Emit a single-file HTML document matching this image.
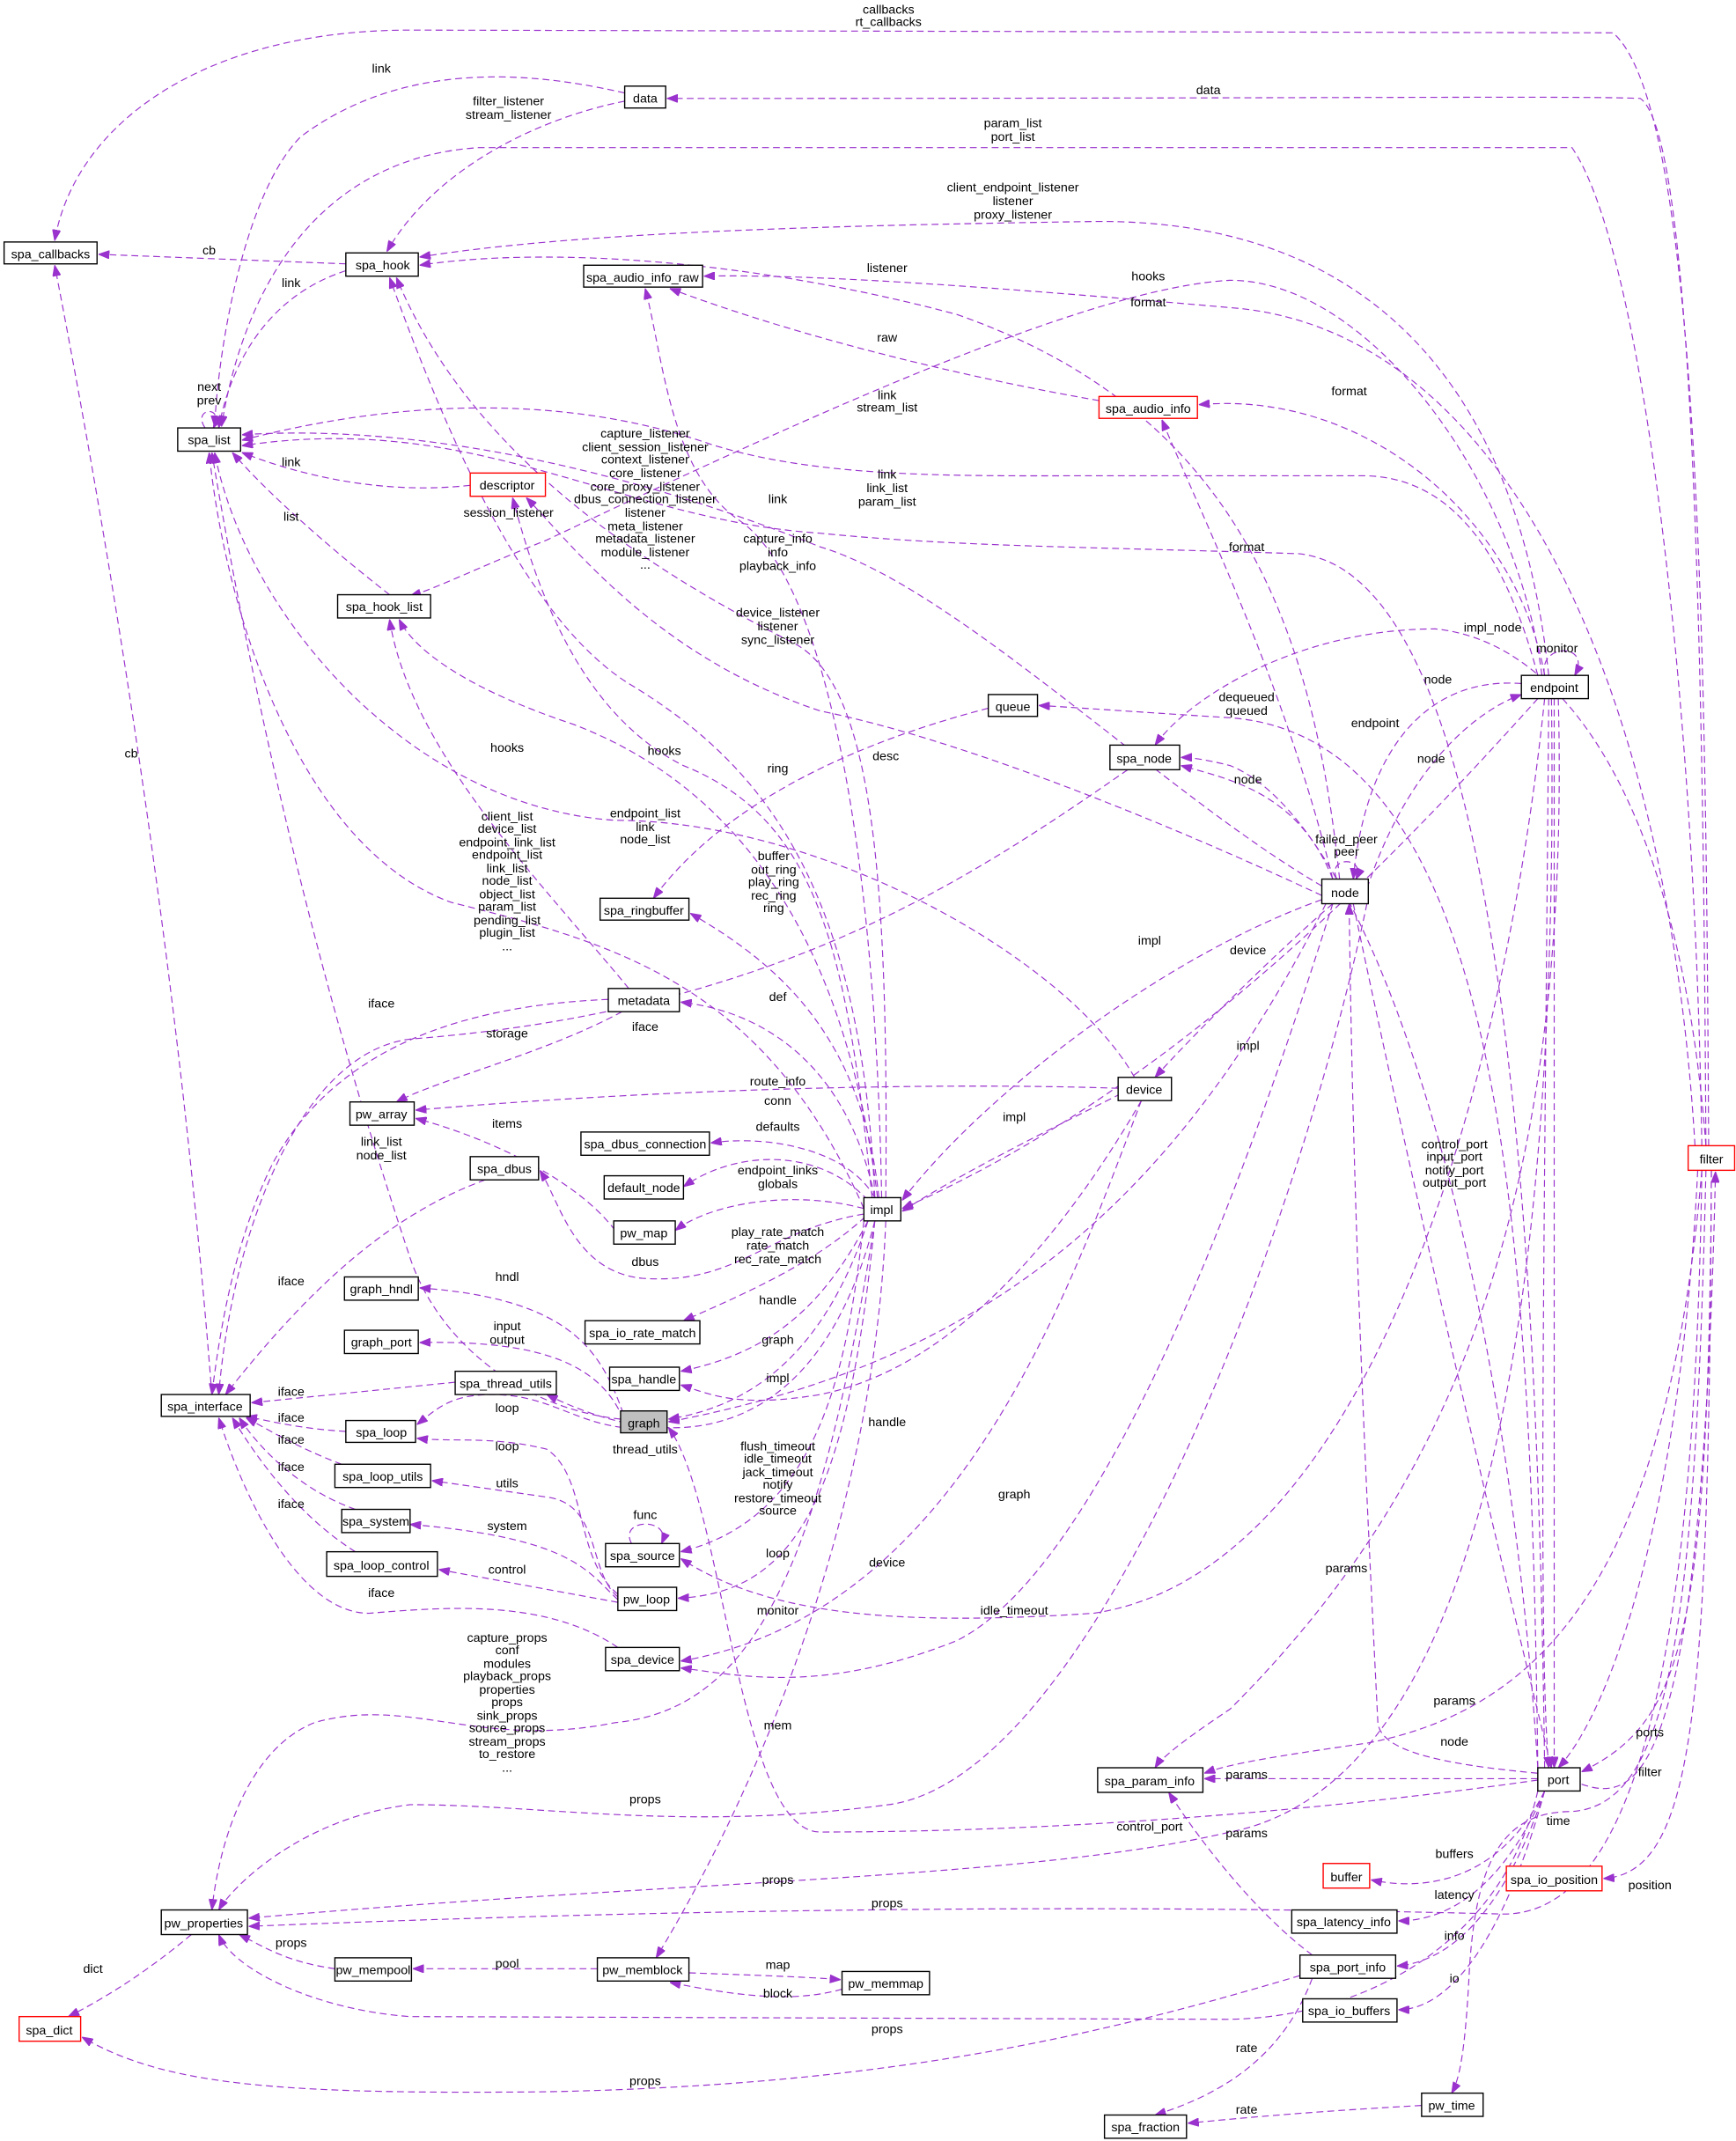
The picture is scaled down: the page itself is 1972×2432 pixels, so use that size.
<!DOCTYPE html>
<html><head><meta charset="utf-8"><style>
html,body{margin:0;padding:0;background:#fff;}
svg{display:block;}
text{font-family:"Liberation Sans",Arial,sans-serif;font-size:9.2px;fill:#000;}
.l{text-anchor:middle;}
.e{fill:none;stroke:#9a32cd;stroke-width:0.75;stroke-dasharray:5,3;}
.n{fill:#fff;stroke:#000;stroke-width:0.9;}
.r{fill:#fff;stroke:#f00;stroke-width:0.9;}
.g{fill:#bfbfbf;stroke:#000;stroke-width:0.9;}
</style></head><body>
<svg width="1972" height="2432" viewBox="0 0 1270 1566" preserveAspectRatio="none" xmlns="http://www.w3.org/2000/svg">
<defs><marker id="a" viewBox="0 0 10 10" refX="10" refY="5" markerWidth="8" markerHeight="6" markerUnits="userSpaceOnUse" orient="auto" preserveAspectRatio="none"><path d="M0,0L10,5L0,10z" fill="#9a32cd" stroke="#9a32cd"/></marker></defs>
<g marker-end="url(#a)">
<path class="e" d="M1250,838 C1248,500 1245,80 1180,24 L300,22 C150,22 55,90 40,176"/>
<path class="e" d="M1248,838 C1246,500 1240,100 1200,72 C1150,70 1000,72 488,72"/>
<path class="e" d="M457,68 C400,55 300,40 220,100 C180,140 160,250 157,312"/>
<path class="e" d="M457,74 C400,85 320,120 283,184"/>
<path class="e" d="M1245,838 C1240,500 1200,180 1150,108 L350,108 C240,115 180,200 162,312"/>
<path class="e" d="M1133,494 C1110,280 1000,160 800,162 C600,165 420,170 307,188"/>
<path class="e" d="M980,643 C960,450 900,300 700,230 C550,190 400,180 307,194"/>
<path class="e" d="M1240,838 C1220,500 1100,240 900,225 C750,212 600,200 515,202"/>
<path class="e" d="M804,293 C700,275 580,245 490,211"/>
<path class="e" d="M1128,494 C1110,350 1000,205 900,205 C800,210 600,300 400,395 C350,415 320,430 300,436"/>
<path class="e" d="M1130,494 C1110,380 1000,285 877,296"/>
<path class="e" d="M975,643 C940,500 880,380 850,307"/>
<path class="e" d="M1125,494 C1100,400 1060,350 1000,348 L800,348 C700,348 600,350 520,325 C420,290 300,290 177,322"/>
<path class="e" d="M1130,1293 C1125,900 1100,420 950,405 C800,400 700,400 600,390 C450,380 350,300 177,326"/>
<path class="e" d="M344,355 C280,362 220,348 177,331"/>
<path class="e" d="M253,193 L72,186"/>
<path class="e" d="M253,198 C200,215 170,260 160,313"/>
<path class="e" d="M150,313 C140,298 165,296 156,313"/>
<path class="e" d="M285,435 C240,400 195,360 170,331"/>
<path class="e" d="M638,876 C620,700 600,600 500,560 C420,520 390,420 375,364"/>
<path class="e" d="M640,876 C630,650 560,560 460,500 C380,450 320,300 285,203"/>
<path class="e" d="M632,884 C560,720 450,690 330,660 C220,620 165,450 153,331"/>
<path class="e" d="M645,876 C640,600 600,420 540,380 C490,345 485,260 472,211"/>
<path class="e" d="M648,876 C650,650 640,500 580,470 C420,390 330,300 290,203"/>
<path class="e" d="M967,648 C850,580 700,430 600,400 C450,340 300,310 177,318"/>
<path class="e" d="M830,788 C780,700 600,600 450,600 C300,590 180,450 157,331"/>
<path class="e" d="M642,876 C620,700 550,580 420,530 C330,500 300,470 292,453"/>
<path class="e" d="M460,723 C400,650 300,550 285,453"/>
<path class="e" d="M723,518 C600,550 520,600 478,657"/>
<path class="e" d="M643,876 C630,750 560,700 505,668"/>
<path class="e" d="M967,655 C850,600 700,540 600,520 C480,480 420,400 385,364"/>
<path class="e" d="M1125,1293 C1120,900 1100,540 900,525 C820,520 780,517 760,516"/>
<path class="e" d="M1248,838 C1230,600 1150,470 1050,460 C950,460 870,510 845,545"/>
<path class="e" d="M1113,500 C1050,495 1000,540 990,643"/>
<path class="e" d="M1130,494 C1125,470 1165,470 1152,494"/>
<path class="e" d="M1000,650 C1030,560 1080,520 1113,508"/>
<path class="e" d="M1125,1293 C1100,900 1000,600 900,560 C880,555 870,554 864,554"/>
<path class="e" d="M975,643 C950,580 900,570 864,560"/>
<path class="e" d="M978,643 C970,626 1000,626 992,643"/>
<path class="e" d="M967,658 C850,700 720,800 660,878"/>
<path class="e" d="M975,661 C930,700 870,760 845,788"/>
<path class="e" d="M1125,511 C1000,650 850,800 660,884"/>
<path class="e" d="M820,800 C760,830 700,860 660,886"/>
<path class="e" d="M640,876 C620,780 560,740 498,733"/>
<path class="e" d="M445,731 C350,735 250,760 200,850 C170,910 160,980 155,1020"/>
<path class="e" d="M825,563 C700,650 560,740 300,760 C220,770 170,900 160,1020"/>
<path class="e" d="M455,740 C400,770 320,790 290,806"/>
<path class="e" d="M818,796 C700,792 500,795 304,812"/>
<path class="e" d="M640,876 C620,840 560,830 520,836"/>
<path class="e" d="M450,900 C420,860 350,830 304,818"/>
<path class="e" d="M635,878 C600,840 540,840 500,868"/>
<path class="e" d="M632,884 C580,870 520,880 494,900"/>
<path class="e" d="M632,888 C560,900 540,940 470,935 C420,930 410,880 395,856"/>
<path class="e" d="M454,1038 C380,1030 320,980 300,920 C260,800 200,600 155,331"/>
<path class="e" d="M355,863 C280,890 220,950 165,1020"/>
<path class="e" d="M633,890 C600,920 560,940 500,966"/>
<path class="e" d="M456,1034 C440,990 420,950 307,942"/>
<path class="e" d="M456,1038 C440,1000 400,980 307,982"/>
<path class="e" d="M635,893 C600,960 560,990 498,1003"/>
<path class="e" d="M635,893 C600,1000 540,1030 489,1038"/>
<path class="e" d="M333,1011 L184,1026"/>
<path class="e" d="M640,893 C600,1050 500,1070 400,1020"/>
<path class="e" d="M253,1047 C220,1045 200,1040 180,1036"/>
<path class="e" d="M250,1071 C220,1060 195,1045 180,1037"/>
<path class="e" d="M260,1104 C220,1090 190,1060 175,1037"/>
<path class="e" d="M260,1135 C220,1110 190,1070 170,1037"/>
<path class="e" d="M452,1205 C400,1170 330,1175 270,1180 C220,1180 180,1100 160,1037"/>
<path class="e" d="M455,1044 C420,1040 400,1020 360,1020 C330,1020 320,1030 305,1042"/>
<path class="e" d="M452,1166 C420,1140 430,1080 400,1060 C360,1050 330,1055 305,1052"/>
<path class="e" d="M452,1168 C430,1150 440,1100 400,1095 L316,1083"/>
<path class="e" d="M452,1170 C430,1150 420,1125 300,1115"/>
<path class="e" d="M452,1172 L321,1148"/>
<path class="e" d="M632,893 C620,1000 600,1110 498,1135"/>
<path class="e" d="M462,1129 C452,1110 492,1110 484,1129"/>
<path class="e" d="M640,893 C620,1100 580,1165 496,1169"/>
<path class="e" d="M1130,511 C1100,800 1000,1150 800,1180 C650,1190 560,1180 498,1140"/>
<path class="e" d="M835,805 C780,950 700,1180 498,1215"/>
<path class="e" d="M975,661 C900,900 800,1150 700,1200 C600,1240 540,1225 498,1220"/>
<path class="e" d="M970,661 C850,900 700,1000 489,1040"/>
<path class="e" d="M1125,1302 C1000,1320 800,1340 600,1340 C540,1340 530,1100 489,1044"/>
<path class="e" d="M835,805 C780,900 700,1000 600,1020 C540,1030 520,1020 498,1013"/>
<path class="e" d="M640,893 C600,1150 550,1250 450,1260 C350,1280 300,1240 230,1260 C180,1280 160,1350 155,1397"/>
<path class="e" d="M1000,661 C950,900 800,1300 650,1320 C500,1340 400,1320 300,1320 C220,1330 170,1380 160,1397"/>
<path class="e" d="M648,893 C640,1100 560,1300 480,1432"/>
<path class="e" d="M1135,511 C1140,900 1100,1300 900,1340 C750,1375 500,1375 182,1403"/>
<path class="e" d="M1245,856 C1240,1200 1200,1400 1100,1400 C900,1395 600,1392 182,1409"/>
<path class="e" d="M1125,1310 C1100,1420 1000,1475 900,1477 L300,1475 C230,1470 170,1440 160,1415"/>
<path class="e" d="M245,1440 C210,1435 195,1425 175,1415"/>
<path class="e" d="M437,1440 L302,1440"/>
<path class="e" d="M504,1443 C560,1445 590,1446 615,1448"/>
<path class="e" d="M616,1455 C580,1465 540,1460 490,1450"/>
<path class="e" d="M140,1415 C110,1440 80,1460 50,1475"/>
<path class="e" d="M951,1445 C800,1490 650,1525 400,1530 C200,1532 120,1525 60,1490"/>
<path class="e" d="M1140,511 C1150,900 1050,1100 900,1250 C870,1270 850,1285 845,1293"/>
<path class="e" d="M1245,856 C1220,1150 1130,1250 1000,1275 C930,1285 900,1290 881,1297"/>
<path class="e" d="M1125,1301 L881,1301"/>
<path class="e" d="M1125,1297 C1050,1290 1010,1280 1008,1260 C1000,1100 990,900 987,661"/>
<path class="e" d="M990,661 C1040,900 1100,1150 1135,1293"/>
<path class="e" d="M960,1430 C920,1400 880,1350 855,1311"/>
<path class="e" d="M1252,856 C1250,1200 1230,1260 1157,1296"/>
<path class="e" d="M1157,1305 C1200,1320 1245,1300 1255,857"/>
<path class="e" d="M1248,856 C1240,1200 1220,1320 1150,1325 C1100,1325 1080,1360 1075,1440 C1072,1500 1068,1520 1062,1531"/>
<path class="e" d="M1130,1310 C1100,1370 1050,1385 1003,1375"/>
<path class="e" d="M1130,1310 C1100,1380 1060,1405 1023,1405"/>
<path class="e" d="M1130,1310 C1100,1400 1060,1435 1022,1438"/>
<path class="e" d="M1130,1310 C1100,1420 1060,1470 1023,1470"/>
<path class="e" d="M1252,856 C1250,1250 1240,1370 1173,1374"/>
<path class="e" d="M960,1447 C940,1500 900,1530 845,1547"/>
<path class="e" d="M1040,1540 C950,1545 900,1550 869,1553"/>
<path class="e" d="M155,1020 C130,700 80,400 40,194"/>
<path class="e" d="M1137,511 L1137,1293"/>
<path class="e" d="M1133,511 C1130,900 1125,1200 1133,1293"/>
<path class="e" d="M1242,856 C1230,1100 1180,1250 1140,1293"/>
</g>
<g>
<rect class="n" x="3" y="177" width="68" height="16"/><text x="37" y="189" class="l">spa_callbacks</text>
<rect class="n" x="457" y="63" width="30" height="16"/><text x="472" y="75" class="l">data</text>
<rect class="n" x="253" y="185" width="53" height="17"/><text x="280" y="197" class="l">spa_hook</text>
<rect class="n" x="427" y="194" width="87" height="16"/><text x="470" y="206" class="l">spa_audio_info_raw</text>
<rect class="n" x="130" y="313" width="46" height="17"/><text x="153" y="325" class="l">spa_list</text>
<rect class="r" x="804" y="290" width="72" height="16"/><text x="840" y="302" class="l">spa_audio_info</text>
<rect class="r" x="344" y="346" width="55" height="17"/><text x="371" y="358" class="l">descriptor</text>
<rect class="n" x="247" y="435" width="68" height="17"/><text x="281" y="447" class="l">spa_hook_list</text>
<rect class="n" x="723" y="508" width="36" height="16"/><text x="741" y="520" class="l">queue</text>
<rect class="n" x="1113" y="494" width="49" height="17"/><text x="1137" y="506" class="l">endpoint</text>
<rect class="n" x="812" y="545" width="51" height="18"/><text x="837" y="558" class="l">spa_node</text>
<rect class="n" x="967" y="643" width="34" height="18"/><text x="984" y="656" class="l">node</text>
<rect class="n" x="439" y="657" width="65" height="16"/><text x="471" y="669" class="l">spa_ringbuffer</text>
<rect class="n" x="445" y="723" width="52" height="17"/><text x="471" y="735" class="l">metadata</text>
<rect class="n" x="818" y="788" width="39" height="17"/><text x="837" y="800" class="l">device</text>
<rect class="n" x="256" y="806" width="47" height="17"/><text x="279" y="818" class="l">pw_array</text>
<rect class="n" x="425" y="828" width="94" height="17"/><text x="472" y="840" class="l">spa_dbus_connection</text>
<rect class="n" x="344" y="846" width="50" height="17"/><text x="369" y="858" class="l">spa_dbus</text>
<rect class="n" x="442" y="860" width="58" height="17"/><text x="471" y="872" class="l">default_node</text>
<rect class="n" x="632" y="876" width="27" height="17"/><text x="645" y="888" class="l">impl</text>
<rect class="n" x="449" y="893" width="45" height="17"/><text x="471" y="905" class="l">pw_map</text>
<rect class="r" x="1235" y="838" width="34" height="18"/><text x="1252" y="851" class="l">filter</text>
<rect class="n" x="252" y="934" width="54" height="17"/><text x="279" y="946" class="l">graph_hndl</text>
<rect class="n" x="428" y="966" width="84" height="17"/><text x="470" y="978" class="l">spa_io_rate_match</text>
<rect class="n" x="252" y="973" width="54" height="17"/><text x="279" y="985" class="l">graph_port</text>
<rect class="n" x="446" y="1000" width="51" height="17"/><text x="471" y="1012" class="l">spa_handle</text>
<rect class="n" x="333" y="1003" width="74" height="17"/><text x="370" y="1015" class="l">spa_thread_utils</text>
<rect class="n" x="118" y="1020" width="65" height="16"/><text x="150" y="1032" class="l">spa_interface</text>
<rect class="g" x="454" y="1032" width="34" height="16"/><text x="471" y="1044" class="l">graph</text>
<rect class="n" x="253" y="1039" width="51" height="16"/><text x="279" y="1051" class="l">spa_loop</text>
<rect class="n" x="245" y="1071" width="70" height="17"/><text x="280" y="1083" class="l">spa_loop_utils</text>
<rect class="n" x="250" y="1104" width="50" height="17"/><text x="275" y="1116" class="l">spa_system</text>
<rect class="n" x="443" y="1129" width="54" height="17"/><text x="470" y="1141" class="l">spa_source</text>
<rect class="n" x="239" y="1135" width="81" height="18"/><text x="279" y="1148" class="l">spa_loop_control</text>
<rect class="n" x="452" y="1161" width="43" height="17"/><text x="473" y="1173" class="l">pw_loop</text>
<rect class="n" x="443" y="1205" width="54" height="17"/><text x="470" y="1217" class="l">spa_device</text>
<rect class="n" x="803" y="1293" width="77" height="18"/><text x="841" y="1306" class="l">spa_param_info</text>
<rect class="n" x="1125" y="1293" width="31" height="17"/><text x="1140" y="1305" class="l">port</text>
<rect class="r" x="968" y="1363" width="34" height="18"/><text x="985" y="1376" class="l">buffer</text>
<rect class="r" x="1102" y="1365" width="70" height="18"/><text x="1137" y="1378" class="l">spa_io_position</text>
<rect class="n" x="118" y="1397" width="63" height="18"/><text x="149" y="1410" class="l">pw_properties</text>
<rect class="n" x="945" y="1397" width="77" height="17"/><text x="983" y="1409" class="l">spa_latency_info</text>
<rect class="n" x="245" y="1432" width="56" height="17"/><text x="273" y="1444" class="l">pw_mempool</text>
<rect class="n" x="437" y="1432" width="67" height="17"/><text x="470" y="1444" class="l">pw_memblock</text>
<rect class="n" x="951" y="1430" width="70" height="17"/><text x="986" y="1442" class="l">spa_port_info</text>
<rect class="n" x="616" y="1442" width="64" height="17"/><text x="648" y="1454" class="l">pw_memmap</text>
<rect class="n" x="953" y="1462" width="69" height="17"/><text x="987" y="1474" class="l">spa_io_buffers</text>
<rect class="r" x="14" y="1475" width="45" height="18"/><text x="36" y="1488" class="l">spa_dict</text>
<rect class="n" x="1040" y="1531" width="45" height="17"/><text x="1062" y="1543" class="l">pw_time</text>
<rect class="n" x="808" y="1547" width="60" height="17"/><text x="838" y="1559" class="l">spa_fraction</text>
</g>
<g class="l">
<text x="650" y="10" class="l">callbacks</text><text x="650" y="19" class="l">rt_callbacks</text>
<text x="884" y="69" class="l">data</text>
<text x="279" y="53" class="l">link</text>
<text x="372" y="77" class="l">filter_listener</text><text x="372" y="87" class="l">stream_listener</text>
<text x="741" y="93" class="l">param_list</text><text x="741" y="103" class="l">port_list</text>
<text x="741" y="140" class="l">client_endpoint_listener</text><text x="741" y="150" class="l">listener</text><text x="741" y="160" class="l">proxy_listener</text>
<text x="649" y="199" class="l">listener</text>
<text x="840" y="205" class="l">hooks</text>
<text x="840" y="224" class="l">format</text>
<text x="649" y="250" class="l">raw</text>
<text x="987" y="289" class="l">format</text>
<text x="153" y="186" class="l">cb</text>
<text x="213" y="210" class="l">link</text>
<text x="153" y="286" class="l">next</text><text x="153" y="296" class="l">prev</text>
<text x="649" y="292" class="l">link</text><text x="649" y="301" class="l">stream_list</text>
<text x="472" y="320" class="l">capture_listener</text><text x="472" y="330" class="l">client_session_listener</text><text x="472" y="339" class="l">context_listener</text><text x="472" y="349" class="l">core_listener</text><text x="472" y="359" class="l">core_proxy_listener</text><text x="472" y="368" class="l">dbus_connection_listener</text><text x="472" y="378" class="l">listener</text><text x="472" y="388" class="l">meta_listener</text><text x="472" y="397" class="l">metadata_listener</text><text x="472" y="407" class="l">module_listener</text><text x="472" y="416" class="l">...</text>
<text x="213" y="341" class="l">link</text>
<text x="372" y="378" class="l">session_listener</text>
<text x="649" y="350" class="l">link</text><text x="649" y="360" class="l">link_list</text><text x="649" y="370" class="l">param_list</text>
<text x="569" y="368" class="l">link</text>
<text x="569" y="397" class="l">capture_info</text><text x="569" y="407" class="l">info</text><text x="569" y="417" class="l">playback_info</text>
<text x="213" y="381" class="l">list</text>
<text x="912" y="403" class="l">format</text>
<text x="569" y="451" class="l">device_listener</text><text x="569" y="461" class="l">listener</text><text x="569" y="471" class="l">sync_listener</text>
<text x="1092" y="462" class="l">impl_node</text>
<text x="1139" y="477" class="l">monitor</text>
<text x="1052" y="500" class="l">node</text>
<text x="912" y="513" class="l">dequeued</text><text x="912" y="523" class="l">queued</text>
<text x="1006" y="532" class="l">endpoint</text>
<text x="371" y="550" class="l">hooks</text>
<text x="486" y="552" class="l">hooks</text>
<text x="648" y="556" class="l">desc</text>
<text x="1047" y="558" class="l">node</text>
<text x="96" y="554" class="l">cb</text>
<text x="569" y="565" class="l">ring</text>
<text x="913" y="573" class="l">node</text>
<text x="472" y="598" class="l">endpoint_list</text><text x="472" y="608" class="l">link</text><text x="472" y="617" class="l">node_list</text>
<text x="371" y="600" class="l">client_list</text><text x="371" y="609" class="l">device_list</text><text x="371" y="619" class="l">endpoint_link_list</text><text x="371" y="628" class="l">endpoint_list</text><text x="371" y="638" class="l">link_list</text><text x="371" y="647" class="l">node_list</text><text x="371" y="657" class="l">object_list</text><text x="371" y="666" class="l">param_list</text><text x="371" y="676" class="l">pending_list</text><text x="371" y="685" class="l">plugin_list</text><text x="371" y="695" class="l">...</text>
<text x="985" y="617" class="l">failed_peer</text><text x="985" y="626" class="l">peer</text>
<text x="566" y="629" class="l">buffer</text><text x="566" y="639" class="l">out_ring</text><text x="566" y="648" class="l">play_ring</text><text x="566" y="658" class="l">rec_ring</text><text x="566" y="667" class="l">ring</text>
<text x="841" y="691" class="l">impl</text>
<text x="913" y="698" class="l">device</text>
<text x="569" y="732" class="l">def</text>
<text x="279" y="737" class="l">iface</text>
<text x="472" y="754" class="l">iface</text>
<text x="371" y="759" class="l">storage</text>
<text x="913" y="768" class="l">impl</text>
<text x="569" y="794" class="l">route_info</text>
<text x="569" y="808" class="l">conn</text>
<text x="279" y="838" class="l">link_list</text><text x="279" y="848" class="l">node_list</text>
<text x="742" y="820" class="l">impl</text>
<text x="371" y="825" class="l">items</text>
<text x="569" y="827" class="l">defaults</text>
<text x="569" y="859" class="l">endpoint_links</text><text x="569" y="869" class="l">globals</text>
<text x="1064" y="840" class="l">control_port</text><text x="1064" y="849" class="l">input_port</text><text x="1064" y="859" class="l">notify_port</text><text x="1064" y="868" class="l">output_port</text>
<text x="569" y="904" class="l">play_rate_match</text><text x="569" y="914" class="l">rate_match</text><text x="569" y="924" class="l">rec_rate_match</text>
<text x="472" y="926" class="l">dbus</text>
<text x="371" y="937" class="l">hndl</text>
<text x="213" y="940" class="l">iface</text>
<text x="569" y="954" class="l">handle</text>
<text x="371" y="973" class="l">input</text><text x="371" y="983" class="l">output</text>
<text x="569" y="983" class="l">graph</text>
<text x="569" y="1011" class="l">impl</text>
<text x="213" y="1021" class="l">iface</text>
<text x="371" y="1033" class="l">loop</text>
<text x="213" y="1040" class="l">iface</text>
<text x="649" y="1043" class="l">handle</text>
<text x="213" y="1056" class="l">iface</text>
<text x="371" y="1061" class="l">loop</text>
<text x="569" y="1061" class="l">flush_timeout</text><text x="569" y="1070" class="l">idle_timeout</text><text x="569" y="1080" class="l">jack_timeout</text><text x="569" y="1089" class="l">notify</text><text x="569" y="1099" class="l">restore_timeout</text><text x="569" y="1108" class="l">source</text>
<text x="472" y="1063" class="l">thread_utils</text>
<text x="213" y="1076" class="l">iface</text>
<text x="371" y="1088" class="l">utils</text>
<text x="742" y="1096" class="l">graph</text>
<text x="213" y="1103" class="l">iface</text>
<text x="472" y="1111" class="l">func</text>
<text x="371" y="1119" class="l">system</text>
<text x="569" y="1139" class="l">loop</text>
<text x="649" y="1146" class="l">device</text>
<text x="985" y="1150" class="l">params</text>
<text x="371" y="1151" class="l">control</text>
<text x="279" y="1168" class="l">iface</text>
<text x="569" y="1181" class="l">monitor</text>
<text x="742" y="1181" class="l">idle_timeout</text>
<text x="371" y="1201" class="l">capture_props</text><text x="371" y="1210" class="l">conf</text><text x="371" y="1220" class="l">modules</text><text x="371" y="1229" class="l">playback_props</text><text x="371" y="1239" class="l">properties</text><text x="371" y="1248" class="l">props</text><text x="371" y="1258" class="l">sink_props</text><text x="371" y="1267" class="l">source_props</text><text x="371" y="1277" class="l">stream_props</text><text x="371" y="1286" class="l">to_restore</text><text x="371" y="1296" class="l">...</text>
<text x="1064" y="1247" class="l">params</text>
<text x="569" y="1265" class="l">mem</text>
<text x="1207" y="1270" class="l">ports</text>
<text x="1064" y="1277" class="l">node</text>
<text x="1207" y="1299" class="l">filter</text>
<text x="912" y="1301" class="l">params</text>
<text x="472" y="1319" class="l">props</text>
<text x="1140" y="1335" class="l">time</text>
<text x="841" y="1339" class="l">control_port</text>
<text x="912" y="1344" class="l">params</text>
<text x="1064" y="1359" class="l">buffers</text>
<text x="569" y="1378" class="l">props</text>
<text x="1207" y="1382" class="l">position</text>
<text x="1064" y="1389" class="l">latency</text>
<text x="649" y="1395" class="l">props</text>
<text x="1064" y="1419" class="l">info</text>
<text x="213" y="1424" class="l">props</text>
<text x="371" y="1439" class="l">pool</text>
<text x="569" y="1440" class="l">map</text>
<text x="68" y="1443" class="l">dict</text>
<text x="1064" y="1450" class="l">io</text>
<text x="569" y="1461" class="l">block</text>
<text x="649" y="1487" class="l">props</text>
<text x="912" y="1501" class="l">rate</text>
<text x="472" y="1525" class="l">props</text>
<text x="912" y="1546" class="l">rate</text>
</g>
</svg>
</body></html>
